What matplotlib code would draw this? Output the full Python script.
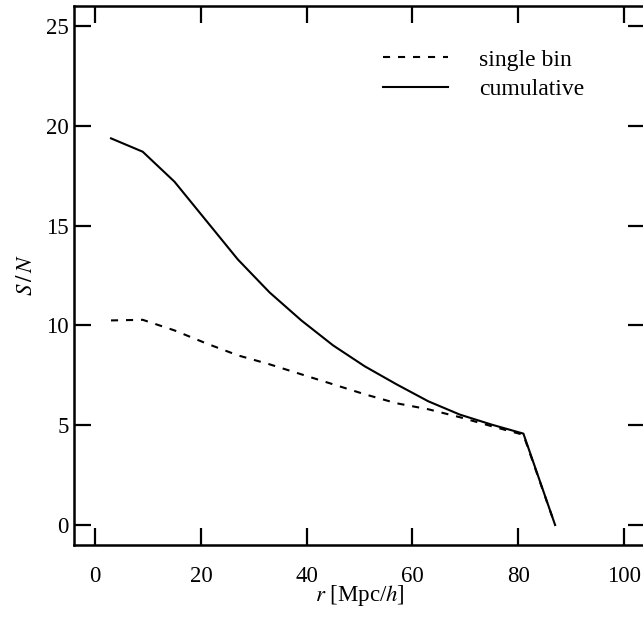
import numpy as np
import matplotlib
matplotlib.use("Agg")
import matplotlib.pyplot as plt

# S/N per radial bin and cumulative
r = [3, 9, 15, 21, 27, 33, 39, 45, 51, 57, 63, 69, 75, 81, 87]
sn_single = [10.25, 10.28, 9.75, 9.1, 8.5, 8.05, 7.55, 7.05, 6.55, 6.1, 5.8, 5.4, 4.95, 4.52, 0.0]
sn_cumul = [19.37, 18.7, 17.2, 15.25, 13.3, 11.65, 10.25, 9.0, 7.95, 7.05, 6.2, 5.53, 5.03, 4.58, 0.0]

plt.rcParams['font.family'] = ['Liberation Serif', 'DejaVu Serif']
plt.rcParams['mathtext.fontset'] = 'stix'
plt.rcParams['font.size'] = 17

fig = plt.figure(figsize=(6.43, 6.17), dpi=100)
ax = fig.add_axes([74/643, 1 - 545/617, 571/643, (545 - 6)/617])

ax.plot(r, sn_single, color='black', lw=1.5, linestyle=(0, (3.4, 3.8)), label='single bin')
ax.plot(r, sn_cumul, color='black', lw=1.5, label='cumulative')

ax.set_xlim(-4, 104)
ax.set_ylim(-1, 26)
ax.set_xticks([0, 20, 40, 60, 80, 100])
ax.set_yticks([0, 5, 10, 15, 20, 25])

for s in ax.spines.values():
    s.set_linewidth(1.8)
ax.tick_params(direction='in', length=12, width=1.6, top=True, right=True, labelsize=16.5)
ax.tick_params(axis='x', pad=15)
ax.tick_params(axis='y', pad=4)

ax.set_xlabel(r'$r$ [Mpc/$h$]', fontsize=16.5, labelpad=-3)
ax.set_ylabel(r'$S\,/\,N$', fontsize=16.5, labelpad=6)

ax.legend(loc='upper left', bbox_to_anchor=(383/643, 1 - 49/617), bbox_transform=fig.transFigure,
          frameon=False, borderpad=0, borderaxespad=0, handlelength=2.75,
          handletextpad=1.3, labelspacing=0.35, fontsize=17)

fig.savefig('out.png', dpi=100)
